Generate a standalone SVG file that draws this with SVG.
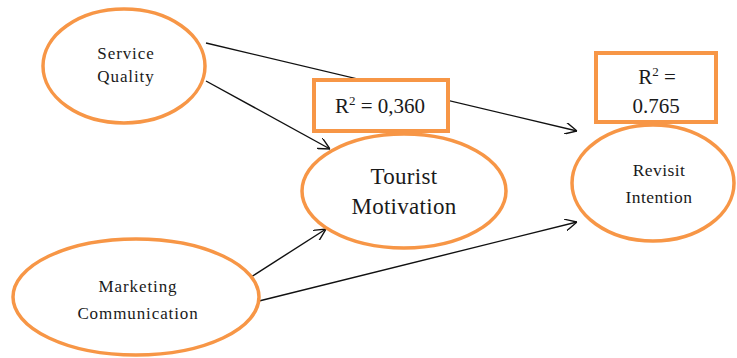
<svg xmlns="http://www.w3.org/2000/svg" width="737" height="358" viewBox="0 0 737 358">
<style>
.node{fill:#fff;stroke:#F79646;stroke-width:3.5}
.box{fill:#fff;stroke:#F79646;stroke-width:4}
.t{font-family:"Liberation Serif","Times New Roman",serif;fill:#1a1a1a;text-anchor:middle}
.s{font-size:17px;letter-spacing:0.9px}
.edge{stroke:#111;stroke-width:1.4;fill:none;marker-end:url(#arr)}
</style>
<defs>
<marker id="arr" viewBox="0 0 12 12" refX="12" refY="6" markerWidth="12" markerHeight="12" markerUnits="userSpaceOnUse" orient="auto">
<path d="M0,0 L12,6 L0,12" fill="none" stroke="#111" stroke-width="1.4"/>
</marker>
</defs>
<rect width="737" height="358" fill="#fff"/>
<g id="connectors">
<line class="edge" x1="206" y1="43" x2="577" y2="131"/>
<line class="edge" x1="206" y1="81" x2="330" y2="149"/>
<line class="edge" x1="251" y1="277" x2="326" y2="229"/>
<line class="edge" x1="259" y1="301" x2="577" y2="222"/>
</g>
<g id="service-quality">
<ellipse class="node" cx="124" cy="66" rx="81" ry="57"/>
<text class="t s" x="126" y="59">Service</text>
<text class="t s" x="126" y="82">Quality</text>
</g>
<g id="marketing-communication">
<ellipse class="node" cx="136" cy="297" rx="123" ry="58"/>
<text class="t s" x="138" y="292">Marketing</text>
<text class="t s" x="138" y="319">Communication</text>
</g>
<g id="tourist-motivation">
<ellipse class="node" cx="404" cy="191" rx="102" ry="57"/>
<text class="t" x="404" y="184" font-size="23" letter-spacing="0.3">Tourist</text>
<text class="t" x="404" y="214" font-size="23" letter-spacing="0.3">Motivation</text>
</g>
<g id="revisit-intention">
<ellipse class="node" cx="653" cy="183" rx="81" ry="58"/>
<text class="t" x="659" y="176" font-size="17.5" letter-spacing="0.4">Revisit</text>
<text class="t" x="659" y="203" font-size="17.5" letter-spacing="0.4">Intention</text>
</g>
<g id="r2-tourist">
<rect class="box" x="314" y="80" width="134" height="51"/>
<text class="t" x="380" y="113" font-size="21">R<tspan font-size="13" dy="-8">2</tspan><tspan dy="8"> = 0,360</tspan></text>
</g>
<g id="r2-revisit">
<rect class="box" x="596" y="53" width="120" height="69"/>
<text class="t" x="657" y="84" font-size="21">R<tspan font-size="13" dy="-8">2</tspan><tspan dy="8"> =</tspan></text>
<text class="t" x="656" y="113" font-size="21">0.765</text>
</g>
</svg>
